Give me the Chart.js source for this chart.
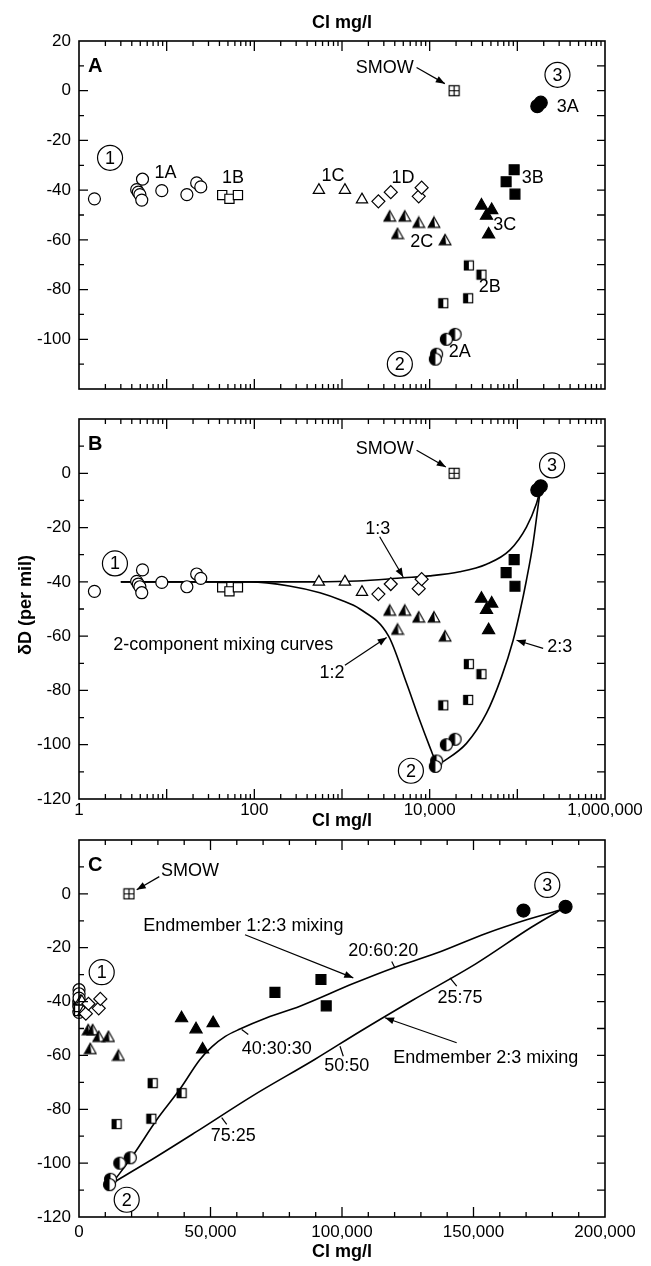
<!DOCTYPE html>
<html>
<head>
<meta charset="utf-8">
<script src="https://cdn.jsdelivr.net/npm/chart.js@4.4.1/dist/chart.umd.min.js"></script>
<style>
  html, body { margin: 0; padding: 0; background: #fff; }
  #wrap { position: relative; width: 651px; height: 1266px; }
  #wrap canvas { position: absolute; left: 0; top: 0; }
</style>
</head>
<body>
<div id="wrap">
  <canvas id="cA" width="651" height="1266"></canvas>
  <canvas id="cB" width="651" height="1266"></canvas>
  <canvas id="cC" width="651" height="1266"></canvas>
</div>
<script>
/* ========= DATA : [Cl mg/l, dD per mil] ========= */
const grp1A = [[1.5,-43.5],[5.3,-35.6],[4.55,-39.8],[4.75,-40.8],[4.95,-41.8],[5.2,-44],[8.8,-40.2],[17,-41.8],[22,-37.1],[24.5,-38.7]];
const grp1B = [[43,-42],[52,-43.5],[65,-42]];
const grp1C = [[545,-40],[1080,-40],[1690,-43.8]];
const grp1D = [[2600,-44.5],[3600,-40.8],[7500,-42.5],[8100,-39]];
const grp2A = [[19500,-98],[15500,-100],[12000,-106],[11600,-108]];
const grp2B = [[28000,-70.3],[39000,-74],[14300,-85.5],[27500,-83.5]];
const grp2C = [[3500,-50.5],[5200,-50.5],[7500,-53],[11200,-53],[4300,-57.5],[15000,-60]];
const grp3A = [[169000,-6.2],[185000,-4.8]];
const grp3B = [[92000,-31.8],[74500,-36.6],[94000,-41.6]];
const grp3C = [[39000,-46.2],[51000,-48],[44500,-50.3],[47000,-57.8]];
const smow  = [[19000,0]];

// mixing curves
const mix12  = [[3,-40],[90,-40],[250,-41.5],[560,-44],[950,-46.6],[1600,-50],[3400,-60],[5400,-77],[7700,-91],[10000,-100.7],[11500,-105.6],[12500,-107.5]];
const mix13  = [[3,-40],[500,-40],[1500,-39.7],[5000,-38.5],[10000,-37.8],[22000,-36.3],[44500,-33.5],[82000,-28.3],[127000,-19.8],[165000,-11.2],[183000,-6]];
const mix23  = [[12500,-107.5],[26300,-99.5],[44500,-88.4],[66000,-75],[89600,-61.5],[107000,-51],[127000,-39.4],[151000,-25.9],[172000,-12.4],[183000,-6]];
const mix123 = [[13000,-107],[20600,-97],[29500,-84],[38400,-72.5],[46000,-61.5],[50500,-56.8],[55500,-53],[61200,-50.2],[71400,-46],[84000,-41.7],[104300,-33.3],[119500,-27.5],[136000,-22],[155000,-14.6],[170200,-9.6],[183000,-6]];

/* ========= TICKS ========= */
const logTicks      = [1, 100, 10000, 1000000];
const logTickLabels = ["1", "100", "10,000", "1,000,000"];
const linTicks      = [0, 50000, 100000, 150000, 200000];
const linTickLabels = ["0", "50,000", "100,000", "150,000", "200,000"];
const yTicksA = [-100, -80, -60, -40, -20, 0, 20];
const yTicksB = [-120, -100, -80, -60, -40, -20, 0];

/* ========= ANNOTATIONS (data coords) ========= */
const notesA = [
  {t:"1A", x:9.7, y:-33.3}, {t:"1B", x:57, y:-35.2}, {t:"1C", x:790, y:-34.3}, {t:"1D", x:4950, y:-35.2},
  {t:"SMOW", x:3080, y:9.3}, {t:"3A", x:377000, y:-6.7}, {t:"3B", x:150000, y:-35.2}, {t:"3C", x:72000, y:-54},
  {t:"2C", x:8100, y:-60.9}, {t:"2B", x:48600, y:-79}, {t:"2A", x:22100, y:-105.3}
];
const endsA   = [{t:"1", x:2.26, y:-27}, {t:"2", x:4570, y:-109.9}, {t:"3", x:287000, y:6.4}];
const arrowsA = [{x1:7090, y1:9.3, x2:14900, y2:2.85}];

const notesB = [
  {t:"SMOW", x:3080, y:9.1}, {t:"1:3", x:2550, y:-20.4}, {t:"1:2", x:767, y:-73.6}, {t:"2:3", x:305000, y:-63.9},
  {t:"2-component mixing curves", x:2.46, y:-63.3, left:true}
];
const endsB   = [{t:"1", x:2.57, y:-33.2}, {t:"2", x:6110, y:-109.6}, {t:"3", x:249000, y:2.9}];
const arrowsB = [
  {x1:7090, y1:8.5, x2:15300, y2:2.3}, {x1:2690, y1:-23.4, x2:4990, y2:-38.2},
  {x1:1080, y1:-70.7, x2:3230, y2:-60.5}, {x1:197000, y1:-64.5, x2:98000, y2:-61.5}
];

const notesC = [
  {t:"SMOW", x:42200, y:8.3}, {t:"Endmember 1:2:3 mixing", x:24450, y:-12.1, left:true},
  {t:"20:60:20", x:115700, y:-21.4}, {t:"40:30:30", x:75170, y:-57.8}, {t:"25:75", x:144870, y:-38.6},
  {t:"50:50", x:101790, y:-64}, {t:"75:25", x:58670, y:-90.1}, {t:"Endmember 2:3 mixing", x:119500, y:-60.9, left:true}
];
const endsC   = [{t:"1", x:8630, y:-29.1}, {t:"2", x:18140, y:-113.6}, {t:"3", x:178060, y:3.3}];
const arrowsC = [
  {x1:30530, y1:6.4, x2:21940, y2:1.5}, {x1:63120, y1:-15.2, x2:104300, y2:-31.2},
  {x1:143610, y1:-55.3, x2:116350, y2:-46}
];
const marksC = [
  {x1:118900, y1:-25.1, x2:120150, y2:-27.5}, {x1:61860, y1:-50.4, x2:64370, y2:-52.2},
  {x1:141060, y1:-31.2, x2:143610, y2:-34.3}, {x1:99240, y1:-56.6, x2:100490, y2:-60.3},
  {x1:54260, y1:-83.1, x2:56160, y2:-85.6}
];

/* ========= STYLE ========= */
const ink  = "#000";
const FONT = '"Liberation Sans", Arial, Helvetica, sans-serif';

function icon(size, draw) {
  const c = document.createElement("canvas");
  c.width = c.height = size;
  const g = c.getContext("2d");
  g.strokeStyle = ink; g.lineWidth = 1.2;
  draw(g, size);
  return c;
}
const halfSquare = icon(12, g => {
  g.fillStyle = "#fff"; g.fillRect(1.5, 1.5, 9, 9);
  g.fillStyle = ink; g.fillRect(1.5, 1.5, 4.5, 9);
  g.strokeRect(1.5, 1.5, 9, 9);
});
const halfCircle = icon(15, g => {
  g.fillStyle = "#fff"; g.beginPath(); g.arc(7.5, 7.5, 6, 0, 2 * Math.PI); g.fill();
  g.fillStyle = ink; g.beginPath(); g.arc(7.5, 7.5, 6, Math.PI / 2, 3 * Math.PI / 2); g.fill();
  g.beginPath(); g.arc(7.5, 7.5, 6, 0, 2 * Math.PI); g.stroke();
});
const halfTriangle = icon(14, g => {
  g.beginPath(); g.moveTo(7, 1.5); g.lineTo(12.8, 11.8); g.lineTo(1.2, 11.8); g.closePath();
  g.fillStyle = "#fff"; g.fill();
  g.fillStyle = ink; g.beginPath(); g.moveTo(7, 1.5); g.lineTo(8, 11.8); g.lineTo(1.2, 11.8); g.closePath(); g.fill();
  g.beginPath(); g.moveTo(7, 1.5); g.lineTo(12.8, 11.8); g.lineTo(1.2, 11.8); g.closePath(); g.stroke();
});
const smowIcon = icon(13, g => {
  g.fillStyle = "#fff"; g.fillRect(1.5, 1.5, 10, 10);
  g.strokeRect(1.5, 1.5, 10, 10);
  g.beginPath(); g.moveTo(6.5, 1.5); g.lineTo(6.5, 11.5); g.moveTo(1.5, 6.5); g.lineTo(11.5, 6.5); g.stroke();
});

const xy = arr => arr.map(([x, y]) => ({x, y}));

function pts(arr, style, fill, r) {
  return {
    data: xy(arr), showLine: false, clip: false,
    pointStyle: style, pointRadius: r, pointBackgroundColor: fill,
    pointBorderColor: ink, pointBorderWidth: 1.2
  };
}
function curve(arr) {
  return {
    data: xy(arr), showLine: true, clip: false, pointRadius: 0,
    borderColor: ink, borderWidth: 1.6, cubicInterpolationMode: "monotone", fill: false
  };
}
function pointSets() {
  return [
    pts(grp3A, "circle", ink, 6.5),
    pts(grp3B, "rect", ink, 7),
    pts(grp3C, "triangle", ink, 7),
    pts(grp2A, halfCircle, ink, 6),
    pts(grp2B, halfSquare, ink, 6),
    pts(grp2C, halfTriangle, ink, 6),
    pts(grp1D, "rectRot", "#fff", 6.5),
    pts(grp1C, "triangle", "#fff", 6.5),
    pts(grp1B, "rect", "#fff", 6.5),
    pts(grp1A, "circle", "#fff", 6),
    pts(smow, smowIcon, "#fff", 6)
  ];
}

/* ========= AXES / DECORATION PLUGIN ========= */
function arrow(ctx, x1, y1, x2, y2, head) {
  ctx.beginPath(); ctx.moveTo(x1, y1); ctx.lineTo(x2, y2); ctx.stroke();
  if (!head) return;
  const a = Math.atan2(y2 - y1, x2 - x1), L = 9, W = 3.5;
  ctx.beginPath();
  ctx.moveTo(x2, y2);
  ctx.lineTo(x2 - L * Math.cos(a) + W * Math.sin(a), y2 - L * Math.sin(a) - W * Math.cos(a));
  ctx.lineTo(x2 - L * Math.cos(a) - W * Math.sin(a), y2 - L * Math.sin(a) + W * Math.cos(a));
  ctx.closePath(); ctx.fill();
}

function decor(cfg) {
  return {
    id: "decor",
    afterDraw(chart) {
      const ctx = chart.ctx, ca = chart.chartArea;
      const X = v => chart.scales.x.getPixelForValue(v);
      const Y = v => chart.scales.y.getPixelForValue(v);
      ctx.save();
      ctx.strokeStyle = ink; ctx.fillStyle = ink;

      // frame
      ctx.lineWidth = 1.6;
      ctx.strokeRect(ca.left, ca.top, ca.right - ca.left, ca.bottom - ca.top);

      // tick marks, all inward
      ctx.lineWidth = 1.3;
      ctx.beginPath();
      const xt = [];
      if (cfg.log) {
        for (let d = 0; d < 6; d++) for (let k = 1; k <= 9; k++) xt.push([k * Math.pow(10, d), k === 1]);
      } else {
        for (let v = 0; v <= 200000; v += 10000) xt.push([v, v % 50000 === 0]);
      }
      xt.forEach(([v, major]) => {
        const px = X(v);
        if (px < ca.left + 1 || px > ca.right - 1) return;
        const len = major ? 10 : 5;
        ctx.moveTo(px, ca.top); ctx.lineTo(px, ca.top + len);
        ctx.moveTo(px, ca.bottom); ctx.lineTo(px, ca.bottom - len);
      });
      for (let v = -110; v < 20; v += 10) {
        const py = Y(v), major = v % 20 === 0;
        ctx.moveTo(ca.left, py); ctx.lineTo(ca.left + (major ? 9 : 5), py);
        ctx.moveTo(ca.right, py); ctx.lineTo(ca.right - 8, py);
      }
      ctx.stroke();

      // panel letter
      ctx.font = "bold 20px " + FONT;
      ctx.textAlign = "left"; ctx.textBaseline = "alphabetic";
      ctx.fillText(cfg.letter, ca.left + 9, ca.top + 31);

      // axis titles
      ctx.font = "bold 18px " + FONT;
      ctx.textAlign = "center"; ctx.textBaseline = "middle";
      if (cfg.titleY != null) ctx.fillText("Cl mg/l", 342, cfg.titleY);
      if (cfg.yTitle) {
        ctx.save();
        ctx.translate(26, (ca.top + ca.bottom) / 2 - 4);
        ctx.rotate(-Math.PI / 2);
        ctx.fillText("\u03B4D (per mil)", 0, 0);
        ctx.restore();
      }

      // annotations
      ctx.font = "18px " + FONT;
      ctx.lineWidth = 1.2;
      cfg.notes.forEach(n => {
        ctx.textAlign = n.left ? "left" : "center";
        ctx.fillText(n.t, X(n.x), Y(n.y));
      });
      ctx.textAlign = "center";
      cfg.ends.forEach(n => {
        const px = X(n.x), py = Y(n.y);
        ctx.beginPath(); ctx.arc(px, py, 12.5, 0, 2 * Math.PI); ctx.stroke();
        ctx.fillText(n.t, px, py + 1);
      });
      cfg.arrows.forEach(a => arrow(ctx, X(a.x1), Y(a.y1), X(a.x2), Y(a.y2), true));
      (cfg.marks || []).forEach(a => arrow(ctx, X(a.x1), Y(a.y1), X(a.x2), Y(a.y2), false));
      ctx.restore();
    }
  };
}

function yScale(ticks) {
  return {
    type: "linear", min: -120, max: 20,
    afterFit: s => { s.width = 79; },
    afterBuildTicks: s => { s.ticks = ticks.map(v => ({value: v})); },
    ticks: { padding: 8, color: ink, font: {family: FONT, size: 17}, callback: v => String(v) },
    grid: { display: false, drawTicks: false },
    border: { display: false }
  };
}
function xScale(log, show, pad) {
  const vals = log ? logTicks : linTicks, labs = log ? logTickLabels : linTickLabels;
  return {
    type: log ? "logarithmic" : "linear",
    min: log ? 1 : 0, max: log ? 1000000 : 200000,
    display: show,
    afterFit: s => { s.height = 30; },
    afterBuildTicks: s => { s.ticks = vals.map(v => ({value: v})); },
    ticks: { autoSkip: false, maxRotation: 0, padding: pad, color: ink,
             font: {family: FONT, size: 17}, callback: (v, i) => labs[i] },
    grid: { display: false, drawTicks: false },
    border: { display: false }
  };
}

function makeChart(id, cfg) {
  return new Chart(document.getElementById(id), {
    type: "scatter",
    data: { datasets: [...pointSets(), ...cfg.curves.map(curve)] },
    options: {
      responsive: false, animation: false, devicePixelRatio: 1, events: [],
      layout: { padding: cfg.pad },
      plugins: { legend: {display: false}, tooltip: {enabled: false} },
      scales: { x: cfg.x, y: yScale(cfg.yTicks) }
    },
    plugins: [decor(cfg)]
  });
}

/* ========= BUILD ========= */
makeChart("cA", {
  log: true, letter: "A", titleY: 23,
  pad: {top: 41, right: 46, bottom: 847, left: 0},
  x: xScale(true, false, 1), yTicks: yTicksA, curves: [],
  notes: notesA, ends: endsA, arrows: arrowsA
});
makeChart("cB", {
  log: true, letter: "B", titleY: 821, yTitle: true,
  pad: {top: 419, right: 46, bottom: 437, left: 0},
  x: xScale(true, true, 1), yTicks: yTicksB, curves: [mix12, mix13, mix23],
  notes: notesB, ends: endsB, arrows: arrowsB
});
makeChart("cC", {
  log: false, letter: "C", titleY: 1252,
  pad: {top: 840, right: 46, bottom: 19, left: 0},
  x: xScale(false, true, 5), yTicks: yTicksB, curves: [mix123, mix23],
  notes: notesC, ends: endsC, arrows: arrowsC, marks: marksC
});
</script>
</body>
</html>
